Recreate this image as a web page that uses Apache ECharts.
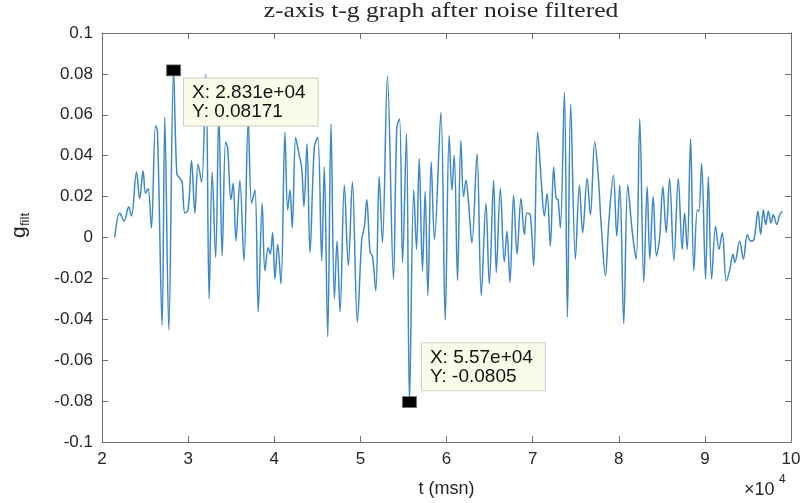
<!DOCTYPE html>
<html>
<head>
<meta charset="utf-8">
<script src="https://cdn.jsdelivr.net/npm/echarts@6/dist/echarts.min.js"></script>
<style>
  html, body { margin: 0; padding: 0; background: #fff; }
  #main { width: 806px; height: 503px; }
</style>
</head>
<body>
<div id="main"></div>
<script>
// time samples (msn) and filtered g values
var tValues = [
  21480, 22060, 22560, 23100, 23420, 24000, 24380, 24770, 25050, 25350,
  25740, 26210, 26440, 26980, 27290, 27760, 28310, 28690, 29030, 29300,
  29620, 30000, 30400, 30780, 31160, 31560, 32060, 32440, 32790, 33190,
  33570, 33950, 34350, 34580, 34970, 35230, 35550, 36010, 36480, 36980,
  37370, 37760, 38140, 38600, 38920, 39300, 39540, 39810, 40080, 40400,
  40780, 41240, 41560, 41830, 42090, 42490, 42790, 43190, 43450, 43800,
  44150, 44650, 45050, 45510, 45810, 46210, 46590, 46980, 47290, 47640,
  48140, 48600, 49070, 49650, 50160, 50470, 50740, 51130, 51400, 51790,
  52180, 52560, 53140, 53840, 54230, 54550, 54900, 55350, 55700, 56200,
  56520, 56830, 57210, 57520, 57840, 58220, 58600, 59350, 59850, 60310,
  60630, 60900, 61280, 61670, 61980, 62260, 62560, 62950, 63540, 64040,
  64580, 64970, 65470, 65780, 66250, 66710, 67020, 67370, 67790, 68190,
  68650, 69040, 69350, 69730, 70120, 70580, 71010, 71360, 71680, 72060,
  72440, 72720, 72950, 73220, 73690, 74040, 74420, 74970, 75430, 75810,
  76330, 76710, 77210, 77600, 77950, 78450, 78840, 79380, 79770, 80120,
  80580, 81050, 81560, 82020, 82440, 82910, 83300, 83610, 84000, 84380,
  84730, 85120, 85510, 85900, 86400, 86910, 87370, 87640, 87950, 88340,
  88720, 89120, 89300, 89620, 90080, 90400, 90780, 91250, 91630, 92020,
  92490, 92870, 93260, 93490, 94040, 94470, 94930, 95310, 95700, 96160,
  96480, 96790, 97060, 97370, 97680, 97950, 98340, 98690, 99000
];
var gValues = [
  0.000, 0.012, 0.008, 0.015, 0.0105, 0.032, 0.019, 0.0326, 0.0216, 0.024,
  0.0047, 0.0547, 0.052, -0.043, 0.0588, -0.0453, 0.08171, 0.031, 0.029, 0.027,
  0.012, 0.0135, 0.0377, 0.012, 0.036, 0.027, 0.080, -0.030, 0.032, -0.0098,
  0.060, -0.009, 0.0467, 0.044, 0.0184, 0.0265, -0.0017, 0.028, -0.0114, 0.057,
  0.0168, 0.0232, -0.0364, 0.0168, -0.0163, -0.005, -0.0082, 0.0023, -0.0203, -0.0034,
  -0.0227, 0.0515, 0.0135, 0.0232, 0.0047, 0.049, 0.0426, 0.0337, 0.015, 0.0458,
  -0.0074, 0.044, 0.049, -0.0114, 0.0345, -0.0485, 0.0555, -0.030, -0.0017, -0.0364,
  0.0257, -0.0138, 0.0273, -0.0413, -0.001, 0.0055, 0.0184, -0.0074, -0.009, -0.026,
  0.0297, -0.0026, 0.079, -0.0203, 0.0539, 0.058, -0.0122, 0.0507, -0.0805, 0.0232,
  -0.0058, 0.0386, -0.0163, 0.0225, -0.0284, 0.037, -0.001, 0.0612, -0.0405, 0.0499,
  0.0232, 0.0402, -0.0211, 0.0474, 0.020, 0.028, 0.0168, -0.0026, 0.041, -0.0284,
  0.0168, -0.0227, 0.028, -0.0171, 0.024, -0.012, 0.003, -0.022, 0.0208, -0.0082,
  0.0192, 0.0015, 0.012, 0.0111, -0.0138, 0.0515, 0.0273, 0.0104, 0.0216, -0.0042,
  0.0345, 0.0192, 0.0184, 0.0047, 0.0709, -0.0389, 0.0652, -0.0106, 0.0257, 0.0023,
  0.0289, 0.0111, 0.0467, 0.0313, 0.0071, -0.0187, 0.0071, 0.0305, 0.0007, 0.0257,
  -0.0421, 0.0257, 0.0031, -0.0106, 0.058, -0.022, 0.0249, -0.0106, 0.020, -0.009,
  -0.001, 0.0249, 0.0023, 0.0289, -0.0114, 0.0289, -0.0058, 0.012, -0.0058, 0.0483,
  -0.0163, 0.0136, 0.0128, 0.0362, -0.0203, 0.0297, -0.0203, 0.0055, -0.0058, 0.0023,
  -0.0211, -0.0163, -0.0082, -0.0122, -0.0017, -0.0106, 0.0015, -0.0017, -0.001, 0.0128,
  0.0015, 0.0136, 0.0063, 0.0128, 0.0071, 0.0111, 0.0063, 0.0111, 0.0128
];
// data tips
var tipMax = [28310, 0.08171];
var tipMin = [55700, -0.0805];

var seriesData = tValues.map(function (t, i) { return [t, gValues[i]]; });

var chart = echarts.init(document.getElementById('main'));

var frame = '#6e6e6e';
var txt = '#262626';
var sans = 'Liberation Sans, Arial, sans-serif';

function tipLabel(pos, text) {
  return {
    show: true,
    position: pos,
    formatter: text,
    backgroundColor: '#fbfbea',
    borderColor: '#cfcfc4',
    borderWidth: 1,
    padding: [5, 12, 4, 8],
    color: '#111',
    fontFamily: sans,
    fontSize: 19,
    lineHeight: 19,
    align: 'left',
    verticalAlign: 'top'
  };
}

var option = {
  animation: false,
  backgroundColor: '#fff',
  grid: { left: 102, right: 15, top: 33, bottom: 57 },
  xAxis: [{
    type: 'value',
    min: 20000, max: 100000, interval: 10000,
    name: 't (msn)',
    nameLocation: 'middle',
    nameGap: 38,
    nameTextStyle: { fontFamily: sans, fontSize: 18, color: txt },
    axisLine: { onZero: false, lineStyle: { color: frame, width: 1 } },
    axisTick: { inside: true, length: 6, lineStyle: { color: frame } },
    axisLabel: { margin: 9, fontFamily: sans, fontSize: 17, color: txt,
      formatter: function (v) { return String(v / 10000); } },
    splitLine: { show: false }
  }, {
    type: 'value', position: 'top',
    min: 20000, max: 100000, interval: 10000,
    axisLine: { onZero: false, lineStyle: { color: frame, width: 1 } },
    axisTick: { inside: true, length: 6, lineStyle: { color: frame } },
    axisLabel: { show: false },
    splitLine: { show: false }
  }],
  yAxis: [{
    type: 'value',
    min: -0.1, max: 0.1, interval: 0.02,
    axisLine: { show: true, onZero: false, lineStyle: { color: frame, width: 1 } },
    axisTick: { inside: true, length: 6, lineStyle: { color: frame } },
    axisLabel: { margin: 9, fontFamily: sans, fontSize: 17, color: txt,
      formatter: function (v) { return String(+v.toFixed(2)); } },
    splitLine: { show: false }
  }, {
    type: 'value', position: 'right',
    min: -0.1, max: 0.1, interval: 0.02,
    axisLine: { show: true, onZero: false, lineStyle: { color: frame, width: 1 } },
    axisTick: { inside: true, length: 6, lineStyle: { color: frame } },
    axisLabel: { show: false },
    splitLine: { show: false }
  }],
  series: [{
    type: 'line',
    data: seriesData,
    showSymbol: false,
    smooth: 0.35,
    lineStyle: { color: '#3e88c8', width: 1.5 },
    itemStyle: { color: '#3e88c8' },
    markPoint: {
      symbol: 'rect',
      symbolSize: [14, 11],
      itemStyle: { color: '#000', borderColor: '#777', borderWidth: 1 },
      data: [
        { coord: tipMax, label: tipLabel([18, 14], 'X: 2.831e+04\nY: 0.08171') },
        { coord: tipMin, label: tipLabel([20, -53], 'X: 5.57e+04\nY: -0.0805') }
      ]
    }
  }],
  graphic: [
    {
      type: 'text', x: 441, y: 12, scaleX: 1.28, scaleY: 1,
      style: { text: 'z-axis t-g graph after noise filtered', font: '20px Liberation Serif, Times New Roman, serif',
        fill: txt, align: 'center', verticalAlign: 'middle' }
    },
    {
      type: 'group',
      left: 9, top: 213,
      rotation: Math.PI / 2,
      children: [
        { type: 'text', x: 0, y: 0, style: { text: 'g', font: '21px ' + sans, fill: txt } },
        { type: 'text', x: 12, y: 10, style: { text: 'filt', font: '13px ' + sans, fill: txt } }
      ]
    },
    { type: 'text', left: 744, top: 481, style: { text: '\u00d710', font: '18px ' + sans, fill: txt } },
    { type: 'text', left: 779, top: 474, style: { text: '4', font: '12px ' + sans, fill: txt } }
  ]
};

chart.setOption(option);
</script>
</body>
</html>
